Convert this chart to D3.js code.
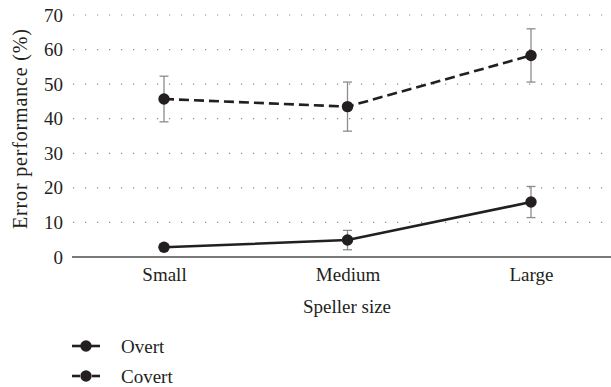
<!DOCTYPE html>
<html>
<head>
<meta charset="utf-8">
<script src="https://cdn.jsdelivr.net/npm/d3@7"></script>
<style>
  html, body { margin: 0; padding: 0; background: #fff; }
  svg { display: block; }
</style>
</head>
<body>
<svg id="chart" width="611" height="387" font-family="Liberation Serif"></svg>
<script>
// Speller-size categories and error rates (%) with error-bar half-widths
const categories = ["Small", "Medium", "Large"];
const overtMean = [2.8, 4.9, 15.9];
const overtErr = [0.8, 2.8, 4.5];
const covertMean = [45.7, 43.5, 58.3];
const covertErr = [6.6, 7.1, 7.7];
const yTicks = [0, 10, 20, 30, 40, 50, 60, 70];

const series = [
  { name: "Overt", mean: overtMean, err: overtErr, dash: null },
  { name: "Covert", mean: covertMean, err: covertErr, dash: "10,5" }
];

const FONT = "Liberation Serif";
const FS = 19;
const svg = d3.select("#chart");
const W = 611;
const plotLeft = 72, plotTop = 15, plotBottom = 257;
const ink = "#231f20";

const x = d3.scalePoint().domain(categories).range([164, 531]);
const y = d3.scaleLinear().domain([0, 70]).range([plotBottom, plotTop]);

// dotted horizontal gridlines
svg.append("g")
  .selectAll("line")
  .data(yTicks.filter(t => t > 0))
  .join("line")
  .attr("x1", plotLeft + 1).attr("x2", W)
  .attr("y1", d => y(d)).attr("y2", d => y(d))
  .attr("stroke", "#8a8a8a")
  .attr("stroke-width", 1.2)
  .attr("stroke-dasharray", "1.2,10.8");

// y axis: labels only, no line
const yAxis = svg.append("g")
  .attr("transform", `translate(${plotLeft},0)`)
  .call(d3.axisLeft(y).tickValues(yTicks).tickSize(0).tickPadding(9))
  .attr("font-family", FONT)
  .attr("font-size", FS);
yAxis.select(".domain").remove();
yAxis.selectAll("text").attr("fill", ink);

// x axis baseline and category labels
const xAxis = svg.append("g")
  .attr("transform", `translate(0,${plotBottom})`)
  .call(d3.axisBottom(x).tickSize(0).tickPadding(11))
  .attr("font-family", FONT)
  .attr("font-size", FS);
xAxis.select(".domain").remove();
xAxis.selectAll("text").attr("fill", ink);
svg.append("line")
  .attr("x1", plotLeft).attr("x2", W)
  .attr("y1", plotBottom).attr("y2", plotBottom)
  .attr("stroke", "#4d4d4d").attr("stroke-width", 1.6);

// axis titles
svg.append("text")
  .attr("x", 347).attr("y", 313)
  .attr("text-anchor", "middle")
  .attr("font-family", FONT)
  .attr("font-size", FS)
  .attr("fill", ink)
  .text("Speller size");

svg.append("text")
  .attr("transform", "translate(27,129) rotate(-90)")
  .attr("text-anchor", "middle")
  .attr("font-family", FONT)
  .attr("font-size", 20)
  .attr("textLength", 200)
  .attr("lengthAdjust", "spacing")
  .attr("fill", ink)
  .text("Error performance (%)");

// error bars
const cap = 4.5;
series.forEach(s => {
  const g = svg.append("g").attr("stroke", "#8c8c8c").attr("stroke-width", 1.3);
  categories.forEach((c, i) => {
    const cx = x(c);
    const y1 = y(s.mean[i] + s.err[i]);
    const y0 = y(s.mean[i] - s.err[i]);
    g.append("line").attr("x1", cx).attr("x2", cx).attr("y1", y1).attr("y2", y0);
    g.append("line").attr("x1", cx - cap).attr("x2", cx + cap).attr("y1", y1).attr("y2", y1);
    g.append("line").attr("x1", cx - cap).attr("x2", cx + cap).attr("y1", y0).attr("y2", y0);
  });
});

// lines and markers
const line = d3.line().x((d, i) => x(categories[i])).y(d => y(d));
series.forEach(s => {
  svg.append("path")
    .datum(s.mean)
    .attr("d", line)
    .attr("fill", "none")
    .attr("stroke", ink)
    .attr("stroke-width", 2.6)
    .attr("stroke-dasharray", s.dash);
  svg.append("g")
    .selectAll("circle")
    .data(s.mean)
    .join("circle")
    .attr("cx", (d, i) => x(categories[i]))
    .attr("cy", d => y(d))
    .attr("r", 5.7)
    .attr("fill", ink);
});

// legend
const legend = svg.append("g");
series.forEach((s, i) => {
  const ly = 346 + i * 30;
  if (s.dash) {
    legend.append("line").attr("x1", 72).attr("x2", 80).attr("y1", ly).attr("y2", ly)
      .attr("stroke", ink).attr("stroke-width", 2.6);
    legend.append("line").attr("x1", 92).attr("x2", 100).attr("y1", ly).attr("y2", ly)
      .attr("stroke", ink).attr("stroke-width", 2.6);
  } else {
    legend.append("line").attr("x1", 72).attr("x2", 100).attr("y1", ly).attr("y2", ly)
      .attr("stroke", ink).attr("stroke-width", 2.6);
  }
  legend.append("circle").attr("cx", 86).attr("cy", ly).attr("r", 5.7).attr("fill", ink);
  legend.append("text")
    .attr("x", 121).attr("y", ly + 6.5)
    .attr("font-family", FONT)
    .attr("font-size", FS)
    .attr("fill", ink)
    .text(s.name);
});
</script>
</body>
</html>
